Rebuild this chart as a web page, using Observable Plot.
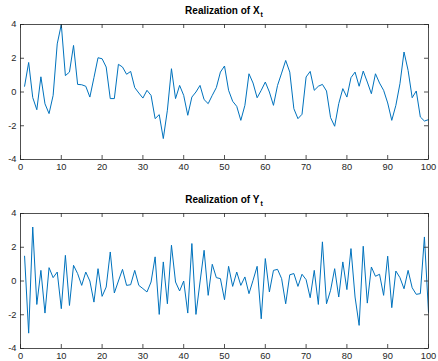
<!DOCTYPE html>
<html>
<head>
<meta charset="utf-8">
<script src="https://cdn.jsdelivr.net/npm/d3@7"></script>
<script src="https://cdn.jsdelivr.net/npm/@observablehq/plot@0.6"></script>
<style>
  html, body { margin: 0; padding: 0; background: #fff; }
  #wrap { position: relative; width: 438px; height: 361px; background: #fff; overflow: hidden; }
  .title { position: absolute; left: 20px; width: 408px; text-align: center;
           font: bold 10px "Liberation Sans", Arial, Helvetica, sans-serif; line-height: 12px; color: #000; }
  .title span.sub { font-size: 7px; position: relative; top: 3px; margin-left: 1px; }
  .panel { position: absolute; left: 0; }
</style>
</head>
<body>
<div id="wrap">
  <div id="p1" class="panel" style="top:0px"></div>
  <div id="p2" class="panel" style="top:189px"></div>
  <div class="title" style="top:5px">Realization of X<span class="sub">t</span></div>
  <div class="title" style="top:194px">Realization of Y<span class="sub">t</span></div>
</div>
<script>
// Realization of X_t (t = 1..100)
const xt = [0.34,1.75,-0.33,-1.05,0.9,-0.7,-1.28,-0.2,2.85,4.0,
            0.97,1.18,2.76,0.45,0.43,0.34,-0.3,0.85,2.03,1.97,
            1.48,-0.39,-0.39,1.64,1.48,1.05,1.22,0.26,-0.06,-0.36,
            0.1,-0.2,-1.58,-1.34,-2.76,-1.08,1.38,-0.39,0.39,-0.2,
            -1.38,-0.3,0,0.39,-0.45,-0.69,-0.2,0.26,1.18,1.54,
            0.1,-0.55,-0.85,-1.68,-0.79,1.08,0.53,-0.34,0.1,0.59,
            0,-0.79,0.39,1.12,1.87,1.18,-0.99,-1.58,-1.32,0.89,
            1.22,0.1,0.34,0.45,0.06,-1.52,-2.03,-0.69,0.2,-0.3,
            0.85,1.18,0.34,1.24,0.59,-0.1,1.08,0.53,0.1,-0.65,
            -1.68,-0.79,0.49,2.37,1.28,-0.34,0.06,-1.48,-1.72,-1.64];
// Realization of Y_t (t = 1..100)
const yt = [1.47,-3.09,3.2,-1.39,0.63,-1.9,0.79,0.2,0.53,-1.64,
            1.52,-1.45,0.93,0.44,-0.26,0.53,0,-1.25,0.73,-0.91,
            -0.36,1.72,-0.71,0,0.69,-0.26,-0.22,0.63,-0.26,-0.45,
            -0.65,-0.06,1.43,-1.98,1.13,-1.35,2.12,-0.06,-0.59,0,
            -1.9,2.22,-1.98,-0.06,1.82,-0.85,0.99,0.2,0.14,-1.11,
            0.87,-0.32,0.53,-0.26,0.24,-0.75,0.04,0.87,-2.24,1.33,
            -0.65,0.63,0.69,0.14,-1.35,0.37,0.44,-0.32,0.4,0.08,
            -0.99,0.63,-1.39,2.32,-1.35,-0.55,0.73,-0.95,1.13,-0.51,
            1.92,-0.95,-2.63,2.06,-1.31,0.83,0.28,0.4,-0.85,1.47,
            -1.58,0.59,0.2,-0.46,0.63,-0.4,-0.79,-0.75,2.61,-1.85];
const tIndex = xt.map((_, i) => i + 1);
const xTicks = [0,10,20,30,40,50,60,70,80,90,100];
const yTicks = [-4,-2,0,2,4];
const xDomain = [0, 100];
const yDomain = [-4, 4];

const lineColor = "#0072BD";
const axisColor = "#262626";

function panel(values, height, marginBottom) {
  const data = values.map((v, i) => ({t: tIndex[i], v}));
  const marginTop = 24;
  const frameH = height - marginTop - marginBottom;
  const frameW = 438 - 20 - 10;
  const tl = 4;
  return Plot.plot({
    width: 438, height,
    marginTop, marginBottom, marginLeft: 20, marginRight: 10,
    style: {fontFamily: "'Liberation Sans', Arial, Helvetica, sans-serif", fontSize: "9.3px", color: axisColor, background: "white", overflow: "visible"},
    x: {domain: xDomain, ticks: xTicks, label: null},
    y: {domain: yDomain, ticks: yTicks, label: null},
    marks: [
      Plot.line(data, {x: "t", y: "v", stroke: lineColor, strokeWidth: 1}),
      Plot.tickX(xTicks, {x: d => d, insetTop: frameH - tl, stroke: axisColor, strokeWidth: 0.8}),
      Plot.tickX(xTicks, {x: d => d, insetBottom: frameH - tl, stroke: axisColor, strokeWidth: 0.8}),
      Plot.tickY(yTicks, {y: d => d, insetRight: frameW - tl, stroke: axisColor, strokeWidth: 0.8}),
      Plot.tickY(yTicks, {y: d => d, insetLeft: frameW - tl, stroke: axisColor, strokeWidth: 0.8}),
      Plot.frame({stroke: axisColor, strokeWidth: 0.8}),
      Plot.axisX({ticks: xTicks, tickSize: 0, tickPadding: 4, tickFormat: d => String(d), label: null}),
      Plot.axisY({ticks: yTicks, tickSize: 0, tickPadding: 4, tickFormat: d => String(d), label: null})
    ]
  });
}

document.getElementById("p1").appendChild(panel(xt, 180, 21));
document.getElementById("p2").appendChild(panel(yt, 172, 13));
</script>
</body>
</html>
